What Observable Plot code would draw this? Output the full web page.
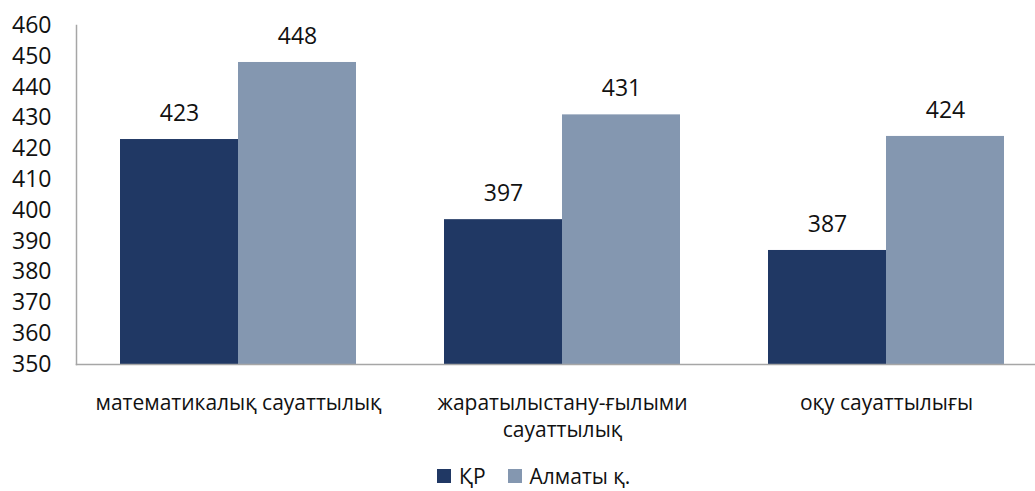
<!DOCTYPE html>
<html>
<head>
<meta charset="utf-8">
<script src="https://cdn.jsdelivr.net/npm/d3@7"></script>
<script src="https://cdn.jsdelivr.net/npm/@observablehq/plot@0.6"></script>
<style>
  html, body { margin: 0; padding: 0; background: #fff; overflow: hidden; }
  #wrap { position: relative; width: 1035px; height: 491px; font-family: "Open Sans", sans-serif; }
  #legend { position: absolute; left: 437px; top: 465px; height: 22px; display: flex; align-items: center; font-size: 21px; line-height: 22px; color: #111; }
  .item { display: flex; align-items: center; margin-right: 22px; }
  .item span { display: block; line-height: 22px; }
  .sw { width: 14px; height: 14px; margin-right: 8px; }
</style>
</head>
<body>
<div id="wrap"><div id="chart"></div><div id="legend"></div></div>
<script>
const categories = ["математикалық сауаттылық", "жаратылыстану-ғылыми сауаттылық", "оқу сауаттылығы"];
const tickLabels = ["математикалық сауаттылық", "жаратылыстану-ғылыми\nсауаттылық", "оқу сауаттылығы"];
const series = ["ҚР", "Алматы қ."];
const krValues = [423, 397, 387];
const almatyValues = [448, 431, 424];
const colors = ["#203864", "#8497b0"];
const yTicks = [350, 360, 370, 380, 390, 400, 410, 420, 430, 440, 450, 460];

const kr = categories.map((c, i) => ({category: c, value: krValues[i]}));
const alm = categories.map((c, i) => ({category: c, value: almatyValues[i]}));

const chart = Plot.plot({
  width: 1035,
  height: 450,
  marginTop: 25,
  marginBottom: 86,
  marginLeft: 76,
  marginRight: -13,
  style: {fontFamily: "Open Sans, sans-serif", fontSize: "23px", color: "#111", background: "#fff"},
  x: {domain: categories, paddingInner: 0.2716, paddingOuter: 0.1358, label: null, axis: null},
  y: {domain: [350, 460], label: null, axis: null},
  marks: [
    Plot.barY(kr, {x: "category", y1: 350, y2: "value", fill: colors[0], insetRight: 118}),
    Plot.barY(alm, {x: "category", y1: 350, y2: "value", fill: colors[1], insetLeft: 118}),
    Plot.text(kr, {x: "category", y: "value", text: d => String(d.value), dx: -59, dy: -26, fontSize: 23, fill: "#111"}),
    Plot.text(alm, {x: "category", y: "value", text: d => String(d.value), dx: 59, dy: -26, fontSize: 23, fill: "#111"}),
    Plot.axisY({ticks: yTicks, tickSize: 0, tickPadding: 25, fontSize: 23, fill: "#111"}),
    Plot.axisX({tickSize: 0, tickPadding: 26, fontSize: 21, lineHeight: 1.3, fill: "#111",
      tickFormat: d => tickLabels[categories.indexOf(d)]}),
    Plot.frame({anchor: "left", stroke: "#a6a6a6", strokeWidth: 1.5}),
    Plot.frame({anchor: "bottom", stroke: "#a6a6a6", strokeWidth: 1.5})
  ]
});
document.getElementById("chart").appendChild(chart);

const legend = document.getElementById("legend");
series.forEach((s, i) => {
  const item = document.createElement("div");
  item.className = "item";
  const sw = document.createElement("div");
  sw.className = "sw";
  sw.style.background = colors[i];
  const t = document.createElement("span");
  t.textContent = s;
  item.appendChild(sw);
  item.appendChild(t);
  legend.appendChild(item);
});
</script>
</body>
</html>
